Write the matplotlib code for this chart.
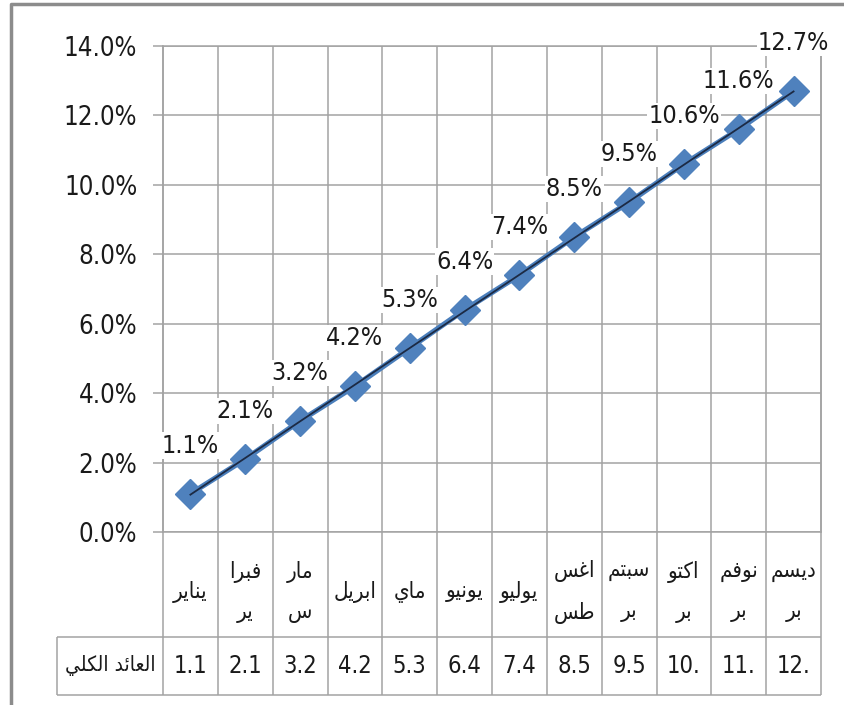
import numpy as np
import matplotlib
matplotlib.use("Agg")
import matplotlib.pyplot as plt
import matplotlib.transforms as mtransforms
from matplotlib.lines import Line2D
from matplotlib.ticker import FuncFormatter

# monthly cumulative return (%)
months = ["يناير", "فبرا\nير", "مار\nس", "ابريل", "ماي", "يونيو", "يوليو",
          "اغس\nطس", "سبتم\nبر", "اكتو\nبر", "نوفم\nبر", "ديسم\nبر"]
values = [1.1, 2.1, 3.2, 4.2, 5.3, 6.4, 7.4, 8.5, 9.5, 10.6, 11.6, 12.7]
row_header = "العائد الكلي"
y_ticks = [0, 2, 4, 6, 8, 10, 12, 14]

# isolated, final, initial, medial (Arabic presentation forms B)
FORMS = {
    'ا': ('\uFE8D', '\uFE8E', None, None),
    'ب': ('\uFE8F', '\uFE90', '\uFE91', '\uFE92'),
    'ت': ('\uFE95', '\uFE96', '\uFE97', '\uFE98'),
    'د': ('\uFEA9', '\uFEAA', None, None),
    'ر': ('\uFEAD', '\uFEAE', None, None),
    'س': ('\uFEB1', '\uFEB2', '\uFEB3', '\uFEB4'),
    'ط': ('\uFEC1', '\uFEC2', '\uFEC3', '\uFEC4'),
    'ع': ('\uFEC9', '\uFECA', '\uFECB', '\uFECC'),
    'غ': ('\uFECD', '\uFECE', '\uFECF', '\uFED0'),
    'ف': ('\uFED1', '\uFED2', '\uFED3', '\uFED4'),
    'ك': ('\uFED9', '\uFEDA', '\uFEDB', '\uFEDC'),
    'ل': ('\uFEDD', '\uFEDE', '\uFEDF', '\uFEE0'),
    'م': ('\uFEE1', '\uFEE2', '\uFEE3', '\uFEE4'),
    'ن': ('\uFEE5', '\uFEE6', '\uFEE7', '\uFEE8'),
    'و': ('\uFEED', '\uFEEE', None, None),
    'ي': ('\uFEF1', '\uFEF2', '\uFEF3', '\uFEF4'),
    'ئ': ('\uFE89', '\uFE8A', '\uFE8B', '\uFE8C'),
}


def shape_line(s):
    out = []
    for i, ch in enumerate(s):
        if ch not in FORMS:
            out.append(ch)
            continue
        iso, fin, ini, med = FORMS[ch]
        prev = i > 0 and s[i - 1] in FORMS and FORMS[s[i - 1]][2] is not None
        nxt = i < len(s) - 1 and s[i + 1] in FORMS and ini is not None
        if prev and nxt:
            out.append(med)
        elif prev:
            out.append(fin)
        elif nxt:
            out.append(ini)
        else:
            out.append(iso)
    return "".join(out)[::-1]


def shape(text):
    return "\n".join(shape_line(l) for l in text.split("\n"))


num_font = ["Liberation Sans Narrow", "DejaVu Sans"]
grid_c = "#a3a3a3"
blue = "#4a7ebb"

fig = plt.figure(figsize=(8.44, 7.05), dpi=100)
ax = fig.add_axes([163 / 844, 1 - 532 / 705, (821 - 163) / 844, (532 - 46) / 705])

x = np.arange(len(values))
ax.plot(x, values, color=blue, lw=3.8, marker="D", markersize=15,
        markerfacecolor="#4f81bd", markeredgecolor="#4f81bd", zorder=3)
fit = np.polyfit(x, values, 1)
ax.plot(x, np.polyval(fit, x), color="#1c2a44", lw=1.3, zorder=4)

for xi, v in zip(x, values):
    ax.annotate(f"{v:.1f}%", (xi, v), xytext=(0, 26), textcoords="offset points",
                ha="center", va="bottom", fontsize=18, family=num_font,
                stretch="condensed", color="#1a1a1a", annotation_clip=False,
                zorder=5,
                bbox=dict(boxstyle="square,pad=0.05", fc="white", ec="none"))

ax.set_xlim(-0.5, len(values) - 0.5)
ax.set_ylim(0, 14)
ax.set_yticks(y_ticks)
ax.yaxis.set_major_formatter(FuncFormatter(lambda v, p: f"{v:.1f}%"))
ax.set_xticks([])
ax.tick_params(axis="y", length=7.5, width=1.1, color=grid_c, pad=11,
               labelsize=18.5, labelcolor="#1a1a1a")
for lab in ax.get_yticklabels():
    lab.set_family(num_font)
    lab.set_stretch("condensed")
ax.grid(axis="y", color=grid_c, lw=1.1)
for sp in ax.spines.values():
    sp.set_color(grid_c)
    sp.set_linewidth(1.1)

# data table under the axis
tr = mtransforms.blended_transform_factory(ax.transData, ax.transAxes)
cat_bot = -105 / 486
val_bot = -163 / 486
head_left = -0.5 - (163 - 57) / ((821 - 163) / len(values))
ax.vlines(np.arange(len(values) + 1) - 0.5, val_bot, 1, transform=tr,
          color=grid_c, lw=1.1, clip_on=False, zorder=1)
ax.hlines([cat_bot, val_bot], head_left, len(values) - 0.5, transform=tr,
          color=grid_c, lw=1.1, clip_on=False)
ax.vlines([head_left], val_bot, cat_bot, transform=tr, color=grid_c, lw=1.1,
          clip_on=False)

for xi, m, v in zip(x, months, values):
    ax.text(xi, cat_bot / 2 - 0.015, shape(m), transform=tr, ha="center",
            va="center", fontsize=16, family="DejaVu Sans", stretch="condensed",
            linespacing=2.2, color="#1a1a1a")
    ax.text(xi, (cat_bot + val_bot) / 2, f"{v:.1f}"[:3], transform=tr,
            ha="center", va="center", fontsize=17, family=num_font,
            stretch="condensed", color="#1a1a1a")
ax.text((head_left - 0.5) / 2, (cat_bot + val_bot) / 2, shape(row_header),
        transform=tr, ha="center", va="center", fontsize=15,
        family="DejaVu Sans", stretch="condensed", color="#1a1a1a")

# outer frame (only top and left edges visible)
fig.add_artist(Line2D([11 / 844, 11 / 844, 1], [0, 1 - 4 / 705, 1 - 4 / 705],
                      transform=fig.transFigure, color="#8c8c8c", lw=2.5))

fig.savefig("out.png", dpi=100)
